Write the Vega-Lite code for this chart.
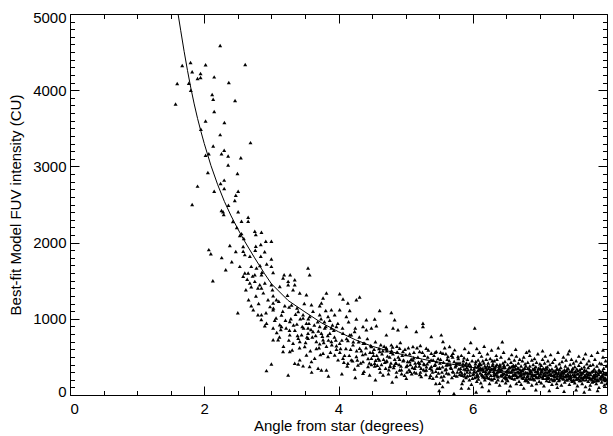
{
  "$schema": "https://vega.github.io/schema/vega-lite/v6.json",
  "width": 537,
  "height": 381,
  "autosize": "none",
  "padding": {"left": 70, "top": 14, "right": 6, "bottom": 41},
  "background": "white",
  "config": {
    "view": {"stroke": "black", "strokeWidth": 1},
    "font": "Liberation Sans",
    "axis": {
      "labelFont": "Liberation Sans", "titleFont": "Liberation Sans",
      "labelFontSize": 15, "titleFontSize": 15, "titleFontWeight": "normal",
      "labelColor": "black", "titleColor": "black", "tickColor": "black",
      "tickWidth": 1, "domain": false, "grid": false
    }
  },
  "datasets": {
    "pts": [
      {"x":1.573,"y":3820},{"x":1.597,"y":4088},{"x":1.672,"y":4325},{"x":1.796,"y":4364},{"x":1.82,"y":4241},
      {"x":1.77,"y":4092},{"x":1.80,"y":4000},{"x":2.02,"y":4333},{"x":1.945,"y":4220},{"x":1.90,"y":4154},
      {"x":1.945,"y":4167},{"x":2.148,"y":4175},{"x":2.237,"y":4588},{"x":2.366,"y":4101},{"x":2.61,"y":4338},
      {"x":2.118,"y":3943},{"x":2.133,"y":3882},{"x":2.459,"y":3864},{"x":2.148,"y":3720},{"x":2.02,"y":3597},
      {"x":2.30,"y":3575},{"x":1.95,"y":3487},{"x":2.237,"y":3417},{"x":2.689,"y":3312},{"x":2.133,"y":3267},
      {"x":2.297,"y":3211},{"x":2.068,"y":3167},{"x":2.257,"y":3167},{"x":2.02,"y":3145},{"x":2.356,"y":3136},
      {"x":2.545,"y":3114},{"x":2.356,"y":3017},{"x":2.054,"y":2921},{"x":2.495,"y":2908},{"x":2.297,"y":2820},
      {"x":2.243,"y":2776},{"x":1.90,"y":2741},{"x":2.297,"y":2711},{"x":2.148,"y":2675},{"x":2.505,"y":2675},
      {"x":2.47,"y":2622},{"x":2.455,"y":2553},{"x":1.82,"y":2500},{"x":2.36,"y":2491},{"x":2.257,"y":2421},
      {"x":2.28,"y":2404},{"x":2.505,"y":2404},{"x":2.29,"y":2368},{"x":2.654,"y":2333},
      {"x":2.426,"y":2276},{"x":2.485,"y":2197},{"x":2.53,"y":2092},{"x":2.589,"y":2053},{"x":2.381,"y":1961},
      {"x":2.47,"y":1882},{"x":2.41,"y":1750},{"x":2.068,"y":1908},{"x":2.098,"y":1855},{"x":2.128,"y":1500},
      {"x":2.50,"y":1079},{"x":2.32,"y":1645},{"x":2.26,"y":1803},
      {"x":2.555,"y":2280},{"x":2.654,"y":2280},{"x":2.555,"y":2118},{"x":2.753,"y":2149},{"x":2.768,"y":2105},
      {"x":2.852,"y":2136},{"x":2.917,"y":2017},{"x":3.0,"y":2017},{"x":2.842,"y":1974},{"x":2.768,"y":1951},
      {"x":2.58,"y":1886},{"x":2.604,"y":1842},{"x":2.842,"y":1820},{"x":3.0,"y":1785},{"x":2.53,"y":1688},
      {"x":2.70,"y":1688},{"x":2.778,"y":1667},{"x":3.0,"y":1688},{"x":3.546,"y":1667},{"x":3.026,"y":1609},
      {"x":3.19,"y":1579},{"x":3.28,"y":1579},{"x":3.57,"y":1579},{"x":2.604,"y":1601},{"x":2.654,"y":1601},
      {"x":2.753,"y":1579},{"x":2.852,"y":1579},{"x":2.58,"y":1557},{"x":3.174,"y":1535},{"x":3.348,"y":1513},
      {"x":3.25,"y":1491},{"x":2.679,"y":1470},{"x":2.753,"y":1491},{"x":2.827,"y":1447},{"x":2.902,"y":1470},
      {"x":3.0,"y":1447},{"x":3.25,"y":1447},{"x":3.348,"y":1447},{"x":2.80,"y":1404},{"x":2.852,"y":1404},
      {"x":3.016,"y":1382},{"x":3.125,"y":1425},{"x":3.323,"y":1382},{"x":3.423,"y":1338},{"x":3.522,"y":1316},
      {"x":3.82,"y":1338},{"x":4.018,"y":1329},{"x":4.266,"y":1250},{"x":4.315,"y":1286},{"x":4.067,"y":1259},
      {"x":4.14,"y":1207},{"x":3.77,"y":1272},{"x":3.745,"y":1207},{"x":3.597,"y":1184},{"x":3.72,"y":1171},
      {"x":3.81,"y":1109},{"x":3.894,"y":1118},{"x":4.018,"y":1118},{"x":4.167,"y":1109},{"x":4.613,"y":1109},
      {"x":4.787,"y":1083},{"x":3.026,"y":1303},{"x":3.075,"y":1250},{"x":3.026,"y":1207},{"x":3.2,"y":1171},
      {"x":3.264,"y":1154},{"x":3.383,"y":1141},{"x":3.40,"y":1096},{"x":2.70,"y":1171},{"x":3.026,"y":1118},
      {"x":3.472,"y":1053},{"x":3.472,"y":1009},{"x":3.57,"y":1030},{"x":3.72,"y":1053},{"x":3.844,"y":1030},
      {"x":3.943,"y":1053},{"x":4.117,"y":1030},{"x":4.266,"y":996},{"x":4.415,"y":987},{"x":4.539,"y":996},
      {"x":4.836,"y":987},{"x":2.80,"y":1053},{"x":2.852,"y":1053},{"x":2.927,"y":943},{"x":3.026,"y":878},
      {"x":3.125,"y":921},{"x":3.15,"y":899},{"x":3.274,"y":964},{"x":3.274,"y":789},{"x":3.40,"y":746},
      {"x":3.522,"y":943},{"x":3.546,"y":878},{"x":3.546,"y":811},{"x":3.62,"y":833},{"x":3.72,"y":899},
      {"x":3.745,"y":811},{"x":3.795,"y":878},{"x":3.87,"y":811},{"x":3.894,"y":878},{"x":3.969,"y":899},
      {"x":4.067,"y":811},{"x":4.167,"y":789},{"x":4.24,"y":833},{"x":4.365,"y":899},{"x":4.415,"y":855},
      {"x":4.49,"y":878},{"x":4.564,"y":908},{"x":4.713,"y":789},{"x":4.812,"y":878},{"x":4.886,"y":855},
      {"x":5.01,"y":899},{"x":5.159,"y":833},{"x":5.258,"y":943},{"x":5.258,"y":899},{"x":5.382,"y":768},
      {"x":5.531,"y":789},{"x":5.556,"y":701},{"x":5.655,"y":636},{"x":5.73,"y":592},{"x":5.78,"y":504},
      {"x":3.323,"y":680},{"x":3.423,"y":701},{"x":3.497,"y":636},{"x":3.546,"y":746},{"x":3.67,"y":701},
      {"x":3.72,"y":671},{"x":3.77,"y":724},{"x":3.894,"y":701},{"x":3.969,"y":645},{"x":4.018,"y":680},
      {"x":4.14,"y":715},{"x":4.216,"y":658},{"x":4.315,"y":614},{"x":4.39,"y":680},{"x":4.49,"y":636},
      {"x":4.613,"y":570},{"x":4.713,"y":614},{"x":4.787,"y":658},{"x":4.911,"y":614},{"x":4.96,"y":570},
      {"x":5.109,"y":636},{"x":5.208,"y":570},{"x":5.308,"y":614},{"x":5.382,"y":548},{"x":5.457,"y":570},
      {"x":5.556,"y":548},{"x":5.63,"y":504},{"x":5.705,"y":548},{"x":2.902,"y":908},{"x":3.026,"y":724},
      {"x":3.10,"y":724},{"x":3.174,"y":570},{"x":3.274,"y":570},{"x":3.348,"y":416},{"x":3.40,"y":408},
      {"x":3.472,"y":382},{"x":3.57,"y":373},{"x":3.597,"y":438},{"x":3.696,"y":351},{"x":3.745,"y":329},
      {"x":3.82,"y":329},{"x":2.927,"y":320},{"x":3.0,"y":408},{"x":3.25,"y":263},{"x":3.423,"y":461},
      {"x":3.522,"y":526},{"x":3.645,"y":482},{"x":3.77,"y":548},{"x":3.844,"y":504},{"x":3.943,"y":526},
      {"x":3.993,"y":461},{"x":4.067,"y":482},{"x":4.14,"y":416},{"x":4.19,"y":461},{"x":4.266,"y":504},
      {"x":4.29,"y":395},{"x":4.365,"y":438},{"x":4.44,"y":373},{"x":4.49,"y":482},{"x":4.539,"y":416},
      {"x":4.613,"y":351},{"x":4.713,"y":438},{"x":4.762,"y":373},{"x":4.861,"y":416},{"x":4.911,"y":329},
      {"x":5.01,"y":373},{"x":5.06,"y":438},{"x":5.134,"y":351},{"x":5.208,"y":416},{"x":5.308,"y":329},
      {"x":5.382,"y":373},{"x":5.457,"y":438},{"x":5.506,"y":351},{"x":5.605,"y":395},{"x":5.68,"y":351},
      {"x":5.754,"y":416},{"x":4.365,"y":285},{"x":4.464,"y":263},{"x":4.663,"y":263},{"x":4.861,"y":241},
      {"x":5.01,"y":219},{"x":5.233,"y":241},{"x":5.407,"y":219},{"x":5.556,"y":197},{"x":5.506,"y":154},
      {"x":5.63,"y":175},
      {"x":4.521,"y":520},{"x":4.553,"y":455},{"x":4.578,"y":390},{"x":4.604,"y":610},{"x":4.622,"y":300},
      {"x":4.648,"y":540},{"x":4.671,"y":470},{"x":4.702,"y":350},{"x":4.719,"y":580},{"x":4.744,"y":280},
      {"x":4.763,"y":500},{"x":4.781,"y":420},{"x":4.806,"y":630},{"x":4.822,"y":360},{"x":4.838,"y":470},
      {"x":4.864,"y":300},{"x":4.879,"y":560},{"x":4.903,"y":400},{"x":4.921,"y":690},{"x":4.937,"y":330},
      {"x":4.962,"y":450},{"x":4.984,"y":260},{"x":5.004,"y":530},{"x":5.023,"y":390},{"x":5.041,"y":620},
      {"x":5.066,"y":310},{"x":5.083,"y":470},{"x":5.101,"y":360},{"x":5.124,"y":560},{"x":5.142,"y":420},
      {"x":5.157,"y":290},{"x":5.183,"y":500},{"x":5.204,"y":380},{"x":5.219,"y":650},{"x":5.238,"y":450},
      {"x":5.266,"y":330},{"x":5.281,"y":520},{"x":5.302,"y":270},{"x":5.322,"y":410},{"x":5.338,"y":590},
      {"x":5.364,"y":350},{"x":5.379,"y":460},{"x":5.401,"y":300},{"x":5.423,"y":520},{"x":5.442,"y":400},
      {"x":5.461,"y":250},{"x":5.484,"y":480},{"x":5.503,"y":360},{"x":5.522,"y":560},{"x":5.541,"y":300},
      {"x":5.563,"y":430},{"x":5.582,"y":620},{"x":5.604,"y":340},{"x":5.621,"y":470},{"x":5.643,"y":280},
      {"x":5.662,"y":400},{"x":5.684,"y":520},{"x":5.702,"y":310},{"x":5.723,"y":440},{"x":5.741,"y":370},
      {"x":5.762,"y":250},{"x":5.784,"y":480},
      {"x":4.02,"y":560},{"x":4.05,"y":720},{"x":4.08,"y":430},{"x":4.11,"y":610},{"x":4.13,"y":380},
      {"x":4.16,"y":520},{"x":4.19,"y":790},{"x":4.21,"y":450},{"x":4.24,"y":340},{"x":4.27,"y":580},
      {"x":4.30,"y":700},{"x":4.33,"y":420},{"x":4.36,"y":530},{"x":4.38,"y":310},{"x":4.41,"y":620},
      {"x":4.44,"y":480},{"x":4.47,"y":560},{"x":4.49,"y":400},
      {"x":3.05,"y":980},{"x":3.08,"y":820},{"x":3.12,"y":760},{"x":3.15,"y":1050},{"x":3.18,"y":640},
      {"x":3.22,"y":880},{"x":3.26,"y":720},{"x":3.29,"y":1000},{"x":3.31,"y":590},{"x":3.35,"y":850},
      {"x":3.38,"y":930},{"x":3.42,"y":620},{"x":3.45,"y":790},{"x":3.48,"y":880},{"x":3.51,"y":690},
      {"x":3.55,"y":1000},{"x":3.58,"y":580},{"x":3.61,"y":760},{"x":3.64,"y":920},{"x":3.67,"y":610},
      {"x":3.70,"y":840},{"x":3.73,"y":530},{"x":3.76,"y":770},{"x":3.79,"y":960},{"x":3.82,"y":640},
      {"x":3.85,"y":720},{"x":3.88,"y":560},{"x":3.91,"y":920},{"x":3.94,"y":760},{"x":3.97,"y":600},
      {"x":2.62,"y":1380},{"x":2.66,"y":1250},{"x":2.70,"y":1420},{"x":2.73,"y":1120},{"x":2.77,"y":1300},
      {"x":2.81,"y":1200},{"x":2.85,"y":990},{"x":2.88,"y":1340},{"x":2.92,"y":1080},{"x":2.95,"y":1250},
      {"x":2.98,"y":1160},{"x":2.64,"y":1520},{"x":2.72,"y":1560},{"x":2.86,"y":1610},{"x":2.93,"y":1720},
      {"x":2.58,"y":1950},{"x":2.68,"y":1820},{"x":2.76,"y":1900},{"x":2.83,"y":1700},{"x":2.90,"y":1880},
      {"x":3.03,"y":1140},{"x":3.07,"y":1010},{"x":3.11,"y":1230},{"x":3.14,"y":860},{"x":3.17,"y":1100},
      {"x":3.21,"y":980},{"x":3.24,"y":1310},{"x":3.27,"y":850},{"x":3.30,"y":1180},{"x":3.33,"y":920},
      {"x":3.36,"y":1060},{"x":3.39,"y":780},{"x":3.43,"y":1000},{"x":3.46,"y":900},{"x":3.49,"y":1200},
      {"x":3.53,"y":760},{"x":3.56,"y":940},{"x":3.59,"y":860},{"x":3.62,"y":1100},{"x":3.66,"y":780},
      {"x":3.69,"y":960},{"x":3.71,"y":620},{"x":3.74,"y":1000},{"x":3.78,"y":690},{"x":3.81,"y":900},
      {"x":3.84,"y":780},{"x":3.87,"y":980},{"x":3.90,"y":660},{"x":3.93,"y":850},{"x":3.96,"y":720},
      {"x":3.99,"y":940},{"x":4.03,"y":610},{"x":4.06,"y":880},{"x":4.09,"y":520},{"x":4.12,"y":740},
      {"x":4.15,"y":960},{"x":4.18,"y":600},{"x":4.22,"y":700},{"x":4.25,"y":880},{"x":4.28,"y":460},
      {"x":4.31,"y":760},{"x":4.34,"y":580},{"x":4.37,"y":680},{"x":4.40,"y":540},{"x":4.43,"y":740},
      {"x":4.46,"y":420},{"x":4.48,"y":650},{"x":3.60,"y":300},{"x":3.85,"y":250},{"x":4.05,"y":280},
      {"x":4.25,"y":230},{"x":4.55,"y":200},{"x":4.80,"y":170},
      {"x":4.51,"y":560},{"x":4.54,"y":380},{"x":4.59,"y":480},{"x":4.64,"y":400},{"x":4.68,"y":640},
      {"x":4.72,"y":450},{"x":4.75,"y":330},{"x":4.78,"y":560},{"x":4.83,"y":390},{"x":4.87,"y":640},
      {"x":4.91,"y":470},{"x":4.94,"y":280},{"x":4.99,"y":600},{"x":5.02,"y":300},{"x":5.06,"y":540},
      {"x":5.09,"y":280},{"x":5.12,"y":490},{"x":5.17,"y":620},{"x":5.22,"y":300},{"x":5.25,"y":560},
      {"x":5.28,"y":400},{"x":5.33,"y":500},{"x":5.36,"y":230},{"x":5.41,"y":460},{"x":5.44,"y":560},
      {"x":5.49,"y":290},{"x":5.52,"y":470},{"x":5.57,"y":250},{"x":5.60,"y":540},{"x":5.65,"y":450},
      {"x":5.70,"y":500},{"x":5.73,"y":260},{"x":5.78,"y":420},{"x":5.50,"y":60},{"x":5.55,"y":110},
      {"x":5.72,"y":20},{"x":5.83,"y":90},{"x":5.45,"y":150},
      {"x":5.03,"y":440},{"x":5.07,"y":400},{"x":5.11,"y":460},{"x":5.15,"y":380},{"x":5.19,"y":430},
      {"x":5.23,"y":350},{"x":5.27,"y":410},{"x":5.31,"y":370},{"x":5.35,"y":440},{"x":5.39,"y":330},
      {"x":5.43,"y":390},{"x":5.47,"y":350},{"x":5.51,"y":420},{"x":5.55,"y":370},{"x":5.59,"y":330},
      {"x":5.63,"y":400},{"x":5.67,"y":360},{"x":5.71,"y":300},{"x":5.75,"y":390},{"x":5.79,"y":340},
      {"x":5.05,"y":330},{"x":5.13,"y":300},{"x":5.21,"y":270},{"x":5.29,"y":320},{"x":5.37,"y":260},
      {"x":5.45,"y":310},{"x":5.53,"y":240},{"x":5.61,"y":290},{"x":5.69,"y":230},{"x":5.77,"y":300},
      {"x":4.53,"y":600},{"x":4.57,"y":520},{"x":4.61,"y":460},{"x":4.66,"y":580},{"x":4.69,"y":430},
      {"x":4.73,"y":510},{"x":4.77,"y":380},{"x":4.81,"y":540},{"x":4.85,"y":420},{"x":4.89,"y":500},
      {"x":4.93,"y":380},{"x":4.97,"y":460},{"x":4.55,"y":700},{"x":4.63,"y":660},{"x":4.71,"y":620},
      {"x":4.79,"y":580},{"x":4.87,"y":560},{"x":4.95,"y":520},
      {"x":5.81,"y":420},{"x":5.82,"y":310},{"x":5.83,"y":520},{"x":5.84,"y":260},{"x":5.85,"y":380},
      {"x":5.86,"y":190},{"x":5.86,"y":450},{"x":5.87,"y":340},{"x":5.88,"y":610},{"x":5.88,"y":280},
      {"x":5.89,"y":400},{"x":5.90,"y":230},{"x":5.84,"y":150},{"x":5.87,"y":490},
      {"x":5.91,"y":360},{"x":5.92,"y":470},{"x":5.92,"y":250},{"x":5.93,"y":330},{"x":5.94,"y":560},
      {"x":5.95,"y":200},{"x":5.95,"y":410},{"x":5.96,"y":300},{"x":5.97,"y":690},{"x":5.97,"y":380},
      {"x":5.98,"y":140},{"x":5.99,"y":450},{"x":6.00,"y":270},{"x":5.94,"y":90},
      {"x":6.01,"y":520},{"x":6.02,"y":340},{"x":6.03,"y":880},{"x":6.03,"y":230},{"x":6.04,"y":410},
      {"x":6.05,"y":300},{"x":6.06,"y":610},{"x":6.06,"y":180},{"x":6.07,"y":370},{"x":6.08,"y":460},
      {"x":6.08,"y":250},{"x":6.09,"y":330},{"x":6.10,"y":560},{"x":6.05,"y":40},
      {"x":6.11,"y":290},{"x":6.12,"y":400},{"x":6.12,"y":160},{"x":6.13,"y":510},{"x":6.14,"y":350},
      {"x":6.15,"y":240},{"x":6.15,"y":450},{"x":6.16,"y":310},{"x":6.17,"y":640},{"x":6.18,"y":200},
      {"x":6.18,"y":380},{"x":6.19,"y":280},{"x":6.20,"y":470},{"x":6.14,"y":110},
      {"x":6.21,"y":330},{"x":6.22,"y":230},{"x":6.22,"y":540},{"x":6.23,"y":420},{"x":6.24,"y":290},
      {"x":6.25,"y":150},{"x":6.25,"y":370},{"x":6.26,"y":480},{"x":6.27,"y":260},{"x":6.28,"y":590},
      {"x":6.28,"y":340},{"x":6.29,"y":200},{"x":6.30,"y":410},{"x":6.24,"y":60},
      {"x":6.31,"y":310},{"x":6.32,"y":450},{"x":6.32,"y":220},{"x":6.33,"y":360},{"x":6.34,"y":270},
      {"x":6.35,"y":520},{"x":6.35,"y":170},{"x":6.36,"y":400},{"x":6.37,"y":300},{"x":6.38,"y":620},
      {"x":6.38,"y":240},{"x":6.39,"y":350},{"x":6.40,"y":130},{"x":6.36,"y":470},
      {"x":6.41,"y":380},{"x":6.42,"y":260},{"x":6.42,"y":500},{"x":6.43,"y":330},{"x":6.44,"y":190},
      {"x":6.45,"y":420},{"x":6.45,"y":290},{"x":6.46,"y":560},{"x":6.47,"y":230},{"x":6.48,"y":360},
      {"x":6.48,"y":440},{"x":6.49,"y":160},{"x":6.50,"y":310},{"x":6.44,"y":700},
      {"x":6.51,"y":270},{"x":6.52,"y":400},{"x":6.52,"y":190},{"x":6.53,"y":340},{"x":6.54,"y":480},
      {"x":6.55,"y":250},{"x":6.55,"y":360},{"x":6.56,"y":120},{"x":6.57,"y":430},{"x":6.58,"y":300},
      {"x":6.58,"y":530},{"x":6.59,"y":220},{"x":6.60,"y":380},{"x":6.54,"y":60},
      {"x":6.61,"y":330},{"x":6.62,"y":210},{"x":6.62,"y":460},{"x":6.63,"y":280},{"x":6.64,"y":390},
      {"x":6.65,"y":150},{"x":6.65,"y":510},{"x":6.66,"y":300},{"x":6.67,"y":240},{"x":6.68,"y":420},
      {"x":6.68,"y":350},{"x":6.69,"y":180},{"x":6.70,"y":470},{"x":6.64,"y":600},
      {"x":6.71,"y":260},{"x":6.72,"y":380},{"x":6.72,"y":140},{"x":6.73,"y":320},{"x":6.74,"y":450},
      {"x":6.75,"y":220},{"x":6.75,"y":340},{"x":6.76,"y":500},{"x":6.77,"y":280},{"x":6.78,"y":190},
      {"x":6.78,"y":410},{"x":6.79,"y":300},{"x":6.80,"y":560},{"x":6.76,"y":90},
      {"x":6.81,"y":240},{"x":6.82,"y":350},{"x":6.82,"y":430},{"x":6.83,"y":170},{"x":6.84,"y":290},
      {"x":6.85,"y":520},{"x":6.85,"y":380},{"x":6.86,"y":210},{"x":6.87,"y":310},{"x":6.88,"y":460},
      {"x":6.88,"y":130},{"x":6.89,"y":270},{"x":6.90,"y":400},{"x":6.84,"y":580},
      {"x":6.91,"y":330},{"x":6.92,"y":200},{"x":6.92,"y":480},{"x":6.93,"y":260},{"x":6.94,"y":370},
      {"x":6.95,"y":150},{"x":6.95,"y":430},{"x":6.96,"y":300},{"x":6.97,"y":540},{"x":6.98,"y":230},
      {"x":6.98,"y":350},{"x":6.99,"y":180},{"x":7.00,"y":410},{"x":6.94,"y":70},
      {"x":7.01,"y":280},{"x":7.02,"y":390},{"x":7.02,"y":160},{"x":7.03,"y":330},{"x":7.04,"y":470},
      {"x":7.05,"y":220},{"x":7.05,"y":350},{"x":7.06,"y":120},{"x":7.07,"y":420},{"x":7.08,"y":260},
      {"x":7.08,"y":510},{"x":7.09,"y":300},{"x":7.10,"y":190},{"x":7.04,"y":580},
      {"x":7.11,"y":370},{"x":7.12,"y":240},{"x":7.12,"y":450},{"x":7.13,"y":310},{"x":7.14,"y":180},
      {"x":7.15,"y":400},{"x":7.15,"y":280},{"x":7.16,"y":530},{"x":7.17,"y":210},{"x":7.18,"y":340},
      {"x":7.18,"y":140},{"x":7.19,"y":430},{"x":7.20,"y":260},{"x":7.14,"y":60},
      {"x":7.21,"y":320},{"x":7.22,"y":200},{"x":7.22,"y":470},{"x":7.23,"y":280},{"x":7.24,"y":380},
      {"x":7.25,"y":150},{"x":7.25,"y":340},{"x":7.26,"y":250},{"x":7.27,"y":560},{"x":7.28,"y":300},
      {"x":7.28,"y":190},{"x":7.29,"y":410},{"x":7.30,"y":230},{"x":7.26,"y":100},
      {"x":7.31,"y":360},{"x":7.32,"y":270},{"x":7.32,"y":130},{"x":7.33,"y":440},{"x":7.34,"y":310},
      {"x":7.35,"y":210},{"x":7.35,"y":500},{"x":7.36,"y":290},{"x":7.37,"y":170},{"x":7.38,"y":380},
      {"x":7.38,"y":240},{"x":7.39,"y":460},{"x":7.40,"y":320},{"x":7.36,"y":50},
      {"x":7.41,"y":200},{"x":7.42,"y":350},{"x":7.42,"y":540},{"x":7.43,"y":260},{"x":7.44,"y":140},
      {"x":7.45,"y":400},{"x":7.45,"y":300},{"x":7.46,"y":230},{"x":7.47,"y":470},{"x":7.48,"y":180},
      {"x":7.48,"y":330},{"x":7.49,"y":270},{"x":7.50,"y":420},{"x":7.44,"y":580},
      {"x":7.51,"y":250},{"x":7.52,"y":370},{"x":7.52,"y":160},{"x":7.53,"y":310},{"x":7.54,"y":450},
      {"x":7.55,"y":210},{"x":7.55,"y":340},{"x":7.56,"y":120},{"x":7.57,"y":280},{"x":7.58,"y":510},
      {"x":7.58,"y":390},{"x":7.59,"y":190},{"x":7.60,"y":300},{"x":7.54,"y":70},
      {"x":7.61,"y":430},{"x":7.62,"y":230},{"x":7.62,"y":350},{"x":7.63,"y":150},{"x":7.64,"y":290},
      {"x":7.65,"y":480},{"x":7.65,"y":200},{"x":7.66,"y":370},{"x":7.67,"y":260},{"x":7.68,"y":540},
      {"x":7.68,"y":110},{"x":7.69,"y":320},{"x":7.70,"y":410},{"x":7.66,"y":40},
      {"x":7.71,"y":240},{"x":7.72,"y":360},{"x":7.72,"y":180},{"x":7.73,"y":450},{"x":7.74,"y":290},
      {"x":7.75,"y":130},{"x":7.75,"y":390},{"x":7.76,"y":220},{"x":7.77,"y":520},{"x":7.78,"y":310},
      {"x":7.78,"y":170},{"x":7.79,"y":400},{"x":7.80,"y":260},{"x":7.74,"y":80},
      {"x":7.81,"y":340},{"x":7.82,"y":210},{"x":7.82,"y":470},{"x":7.83,"y":280},{"x":7.84,"y":150},
      {"x":7.85,"y":380},{"x":7.85,"y":250},{"x":7.86,"y":560},{"x":7.87,"y":190},{"x":7.88,"y":330},
      {"x":7.88,"y":100},{"x":7.89,"y":420},{"x":7.90,"y":230},{"x":7.86,"y":60},
      {"x":7.91,"y":300},{"x":7.92,"y":170},{"x":7.92,"y":410},{"x":7.93,"y":260},{"x":7.94,"y":500},
      {"x":7.95,"y":200},{"x":7.95,"y":350},{"x":7.96,"y":130},{"x":7.97,"y":280},{"x":7.98,"y":450},
      {"x":7.98,"y":220},{"x":7.99,"y":380},{"x":7.995,"y":150},{"x":7.94,"y":590},
      {"x":5.815,"y":350},{"x":5.835,"y":290},{"x":5.855,"y":410},{"x":5.875,"y":250},{"x":5.895,"y":330},{"x":5.805,"y":270},
      {"x":5.915,"y":300},{"x":5.935,"y":390},{"x":5.955,"y":260},{"x":5.975,"y":340},{"x":5.995,"y":220},{"x":5.905,"y":420},
      {"x":6.015,"y":280},{"x":6.035,"y":370},{"x":6.055,"y":240},{"x":6.075,"y":320},{"x":6.095,"y":400},{"x":6.085,"y":210},
      {"x":6.115,"y":350},{"x":6.135,"y":270},{"x":6.155,"y":330},{"x":6.175,"y":230},{"x":6.195,"y":360},{"x":6.105,"y":420},
      {"x":6.215,"y":280},{"x":6.235,"y":350},{"x":6.255,"y":310},{"x":6.275,"y":210},{"x":6.295,"y":390},{"x":6.205,"y":250},
      {"x":6.315,"y":260},{"x":6.335,"y":330},{"x":6.355,"y":290},{"x":6.375,"y":200},{"x":6.395,"y":380},{"x":6.305,"y":350},
      {"x":6.415,"y":310},{"x":6.435,"y":250},{"x":6.455,"y":360},{"x":6.475,"y":280},{"x":6.495,"y":220},{"x":6.405,"y":400},
      {"x":6.515,"y":320},{"x":6.535,"y":240},{"x":6.555,"y":300},{"x":6.575,"y":370},{"x":6.595,"y":260},{"x":6.505,"y":210},
      {"x":6.615,"y":270},{"x":6.635,"y":340},{"x":6.655,"y":230},{"x":6.675,"y":310},{"x":6.695,"y":250},{"x":6.605,"y":390},
      {"x":6.715,"y":300},{"x":6.735,"y":230},{"x":6.755,"y":280},{"x":6.775,"y":350},{"x":6.795,"y":210},{"x":6.705,"y":330},
      {"x":6.815,"y":290},{"x":6.835,"y":220},{"x":6.855,"y":320},{"x":6.875,"y":250},{"x":6.895,"y":340},{"x":6.805,"y":190},
      {"x":6.915,"y":260},{"x":6.935,"y":310},{"x":6.955,"y":230},{"x":6.975,"y":290},{"x":6.995,"y":340},{"x":6.905,"y":210},
      {"x":7.015,"y":240},{"x":7.035,"y":300},{"x":7.055,"y":260},{"x":7.075,"y":330},{"x":7.095,"y":220},{"x":7.005,"y":350},
      {"x":7.115,"y":290},{"x":7.135,"y":230},{"x":7.155,"y":320},{"x":7.175,"y":260},{"x":7.195,"y":200},{"x":7.105,"y":340},
      {"x":7.215,"y":250},{"x":7.235,"y":310},{"x":7.255,"y":220},{"x":7.275,"y":280},{"x":7.295,"y":330},{"x":7.205,"y":190},
      {"x":7.315,"y":230},{"x":7.335,"y":290},{"x":7.355,"y":250},{"x":7.375,"y":310},{"x":7.395,"y":200},{"x":7.305,"y":270},
      {"x":7.415,"y":280},{"x":7.435,"y":220},{"x":7.455,"y":260},{"x":7.475,"y":310},{"x":7.495,"y":190},{"x":7.405,"y":340},
      {"x":7.515,"y":300},{"x":7.535,"y":240},{"x":7.555,"y":280},{"x":7.575,"y":220},{"x":7.595,"y":330},{"x":7.505,"y":200},
      {"x":7.615,"y":270},{"x":7.635,"y":210},{"x":7.655,"y":310},{"x":7.675,"y":240},{"x":7.695,"y":280},{"x":7.605,"y":190},
      {"x":7.715,"y":300},{"x":7.735,"y":230},{"x":7.755,"y":270},{"x":7.775,"y":200},{"x":7.795,"y":320},{"x":7.705,"y":250},
      {"x":7.815,"y":240},{"x":7.835,"y":310},{"x":7.855,"y":200},{"x":7.875,"y":270},{"x":7.895,"y":300},{"x":7.805,"y":180},
      {"x":7.915,"y":250},{"x":7.935,"y":320},{"x":7.955,"y":230},{"x":7.975,"y":190},{"x":7.985,"y":290},{"x":7.905,"y":210},
      {"x":6.02,"y":310},{"x":6.045,"y":440},{"x":6.065,"y":270},{"x":6.09,"y":380},
      {"x":6.12,"y":330},{"x":6.145,"y":260},{"x":6.165,"y":420},{"x":6.19,"y":310},
      {"x":6.22,"y":380},{"x":6.245,"y":220},{"x":6.265,"y":330},{"x":6.29,"y":450},
      {"x":6.32,"y":290},{"x":6.345,"y":380},{"x":6.365,"y":250},{"x":6.39,"y":310},
      {"x":6.42,"y":340},{"x":6.445,"y":270},{"x":6.465,"y":390},{"x":6.49,"y":240},
      {"x":6.52,"y":300},{"x":6.545,"y":360},{"x":6.565,"y":230},{"x":6.59,"y":330},
      {"x":6.62,"y":370},{"x":6.645,"y":260},{"x":6.665,"y":350},{"x":6.69,"y":290},
      {"x":6.72,"y":270},{"x":6.745,"y":320},{"x":6.765,"y":240},{"x":6.79,"y":380},
      {"x":6.82,"y":260},{"x":6.845,"y":340},{"x":6.865,"y":280},{"x":6.89,"y":220},
      {"x":6.92,"y":350},{"x":6.945,"y":240},{"x":6.965,"y":320},{"x":6.99,"y":260},
      {"x":7.02,"y":310},{"x":7.045,"y":230},{"x":7.065,"y":290},{"x":7.09,"y":360},
      {"x":7.12,"y":220},{"x":7.145,"y":330},{"x":7.165,"y":270},{"x":7.19,"y":300},
      {"x":7.22,"y":240},{"x":7.245,"y":290},{"x":7.265,"y":340},{"x":7.29,"y":200},
      {"x":7.32,"y":300},{"x":7.345,"y":220},{"x":7.365,"y":330},{"x":7.39,"y":260},
      {"x":7.42,"y":250},{"x":7.445,"y":310},{"x":7.465,"y":200},{"x":7.49,"y":350},
      {"x":7.52,"y":270},{"x":7.545,"y":210},{"x":7.565,"y":320},{"x":7.59,"y":250},
      {"x":7.62,"y":290},{"x":7.645,"y":230},{"x":7.665,"y":330},{"x":7.69,"y":200},
      {"x":7.72,"y":270},{"x":7.745,"y":210},{"x":7.765,"y":300},{"x":7.79,"y":230},
      {"x":7.82,"y":260},{"x":7.845,"y":190},{"x":7.865,"y":290},{"x":7.89,"y":320},
      {"x":7.92,"y":240},{"x":7.945,"y":280},{"x":7.965,"y":210},{"x":7.99,"y":270}
    ],
    "fit": [
      {"x":1.61,"y":5000},{"x":1.65,"y":4780},{"x":1.70,"y":4510},{"x":1.75,"y":4260},{"x":1.80,"y":4030},
      {"x":1.85,"y":3820},{"x":1.90,"y":3630},{"x":1.95,"y":3460},{"x":2.00,"y":3300},{"x":2.10,"y":3010},
      {"x":2.20,"y":2760},{"x":2.30,"y":2540},{"x":2.40,"y":2350},{"x":2.50,"y":2180},{"x":2.60,"y":2020},
      {"x":2.75,"y":1800},{"x":2.90,"y":1590},{"x":3.00,"y":1460},{"x":3.25,"y":1240},{"x":3.50,"y":1090},
      {"x":3.75,"y":945},{"x":4.00,"y":830},{"x":4.25,"y":725},{"x":4.50,"y":640},{"x":4.75,"y":575},
      {"x":5.00,"y":520},{"x":5.25,"y":470},{"x":5.50,"y":430},{"x":5.75,"y":395},{"x":6.00,"y":360},
      {"x":6.25,"y":333},{"x":6.50,"y":308},{"x":6.75,"y":285},{"x":7.00,"y":265},{"x":7.25,"y":247},
      {"x":7.50,"y":231},{"x":7.75,"y":216},{"x":8.00,"y":203}
    ]
  },
  "resolve": {"axis": {"x": "independent", "y": "independent"}},
  "layer": [
    {
      "data": {"name": "pts"},
      "mark": {"type": "point", "shape": "triangle-up", "filled": true, "color": "black", "size": 16, "opacity": 1, "clip": true},
      "encoding": {
        "x": {"field": "x", "type": "quantitative", "scale": {"domain": [0, 8], "nice": false, "zero": false},
          "axis": {"orient": "bottom", "values": [0, 2, 4, 6, 8], "tickSize": -9, "labelPadding": 15, "format": "d",
            "title": "Angle from star (degrees)", "titlePadding": 2}},
        "y": {"field": "y", "type": "quantitative", "scale": {"domain": [0, 5000], "nice": false},
          "axis": {"orient": "left", "values": [0, 1000, 2000, 3000, 4000, 5000], "tickSize": -9, "labelPadding": 13,
            "format": "d", "labelFlush": true, "labelFlushOffset": 4,
            "title": "Best-fit Model FUV intensity (CU)", "titlePadding": 9}}
      }
    },
    {
      "data": {"name": "fit"},
      "mark": {"type": "line", "color": "black", "strokeWidth": 1, "clip": true},
      "encoding": {
        "x": {"field": "x", "type": "quantitative", "scale": {"domain": [0, 8], "nice": false, "zero": false},
          "axis": {"orient": "bottom", "values": [0.5, 1, 1.5, 2.5, 3, 3.5, 4.5, 5, 5.5, 6.5, 7, 7.5], "tickSize": -4.5, "labels": false, "title": null}},
        "y": {"field": "y", "type": "quantitative", "scale": {"domain": [0, 5000], "nice": false},
          "axis": {"orient": "left", "values": [100,200,300,400,500,600,700,800,900,1100,1200,1300,1400,1500,1600,1700,1800,1900,2100,2200,2300,2400,2500,2600,2700,2800,2900,3100,3200,3300,3400,3500,3600,3700,3800,3900,4100,4200,4300,4400,4500,4600,4700,4800,4900], "tickSize": -4.5, "labels": false, "title": null}}
      }
    },
    {
      "data": {"name": "fit"},
      "mark": {"type": "line", "opacity": 0},
      "encoding": {
        "x": {"field": "x", "type": "quantitative", "scale": {"domain": [0, 8], "nice": false, "zero": false},
          "axis": {"orient": "top", "values": [0, 2, 4, 6, 8], "tickSize": -9, "labels": false, "title": null}},
        "y": {"field": "y", "type": "quantitative", "scale": {"domain": [0, 5000], "nice": false},
          "axis": {"orient": "right", "values": [0, 1000, 2000, 3000, 4000, 5000], "tickSize": -9, "labels": false, "title": null}}
      }
    },
    {
      "data": {"name": "fit"},
      "mark": {"type": "line", "opacity": 0},
      "encoding": {
        "x": {"field": "x", "type": "quantitative", "scale": {"domain": [0, 8], "nice": false, "zero": false},
          "axis": {"orient": "top", "values": [0.5, 1, 1.5, 2.5, 3, 3.5, 4.5, 5, 5.5, 6.5, 7, 7.5], "tickSize": -4.5, "labels": false, "title": null}},
        "y": {"field": "y", "type": "quantitative", "scale": {"domain": [0, 5000], "nice": false},
          "axis": {"orient": "right", "values": [100,200,300,400,500,600,700,800,900,1100,1200,1300,1400,1500,1600,1700,1800,1900,2100,2200,2300,2400,2500,2600,2700,2800,2900,3100,3200,3300,3400,3500,3600,3700,3800,3900,4100,4200,4300,4400,4500,4600,4700,4800,4900], "tickSize": -4.5, "labels": false, "title": null}}
      }
    }
  ]
}
